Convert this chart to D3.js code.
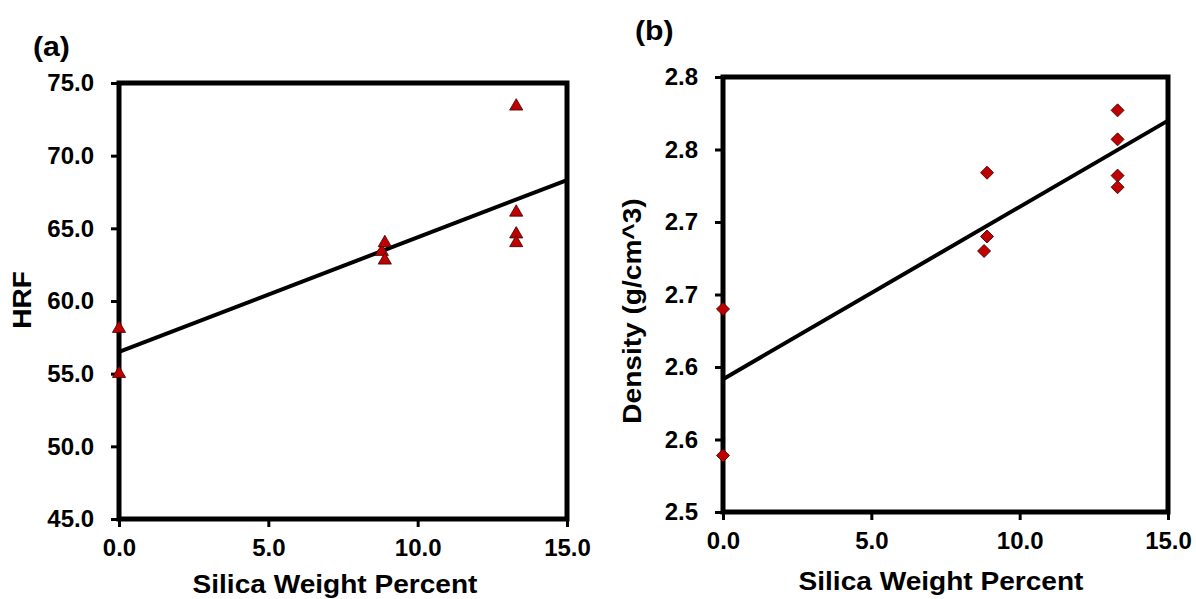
<!DOCTYPE html>
<html lang='en'>
<head>
    <meta charset='UTF-8'>
    <title>Silica weight percent</title>
    <style>
        body {
            margin: 0;
            background: #fff;
        }
        text {
            font-family: 'Liberation Sans', Arial, sans-serif;
            font-weight: bold;
            fill: #000;
        }
        .tick line {
            stroke: #000;
            stroke-width: 3px;
        }
        .domain {
            display: none;
        }
    </style>
</head>
<body>
    <div id="chart"></div>
    <script src='https://d3js.org/d3.v7.min.js'></script>
    <script>
        // data
        const silicaA = [0, 0, 8.8, 8.9, 8.9, 13.3, 13.3, 13.3, 13.3]
        const hrf = [58.1, 55.0, 63.4, 64.0, 62.8, 73.4, 66.1, 64.6, 64.0]
        const silicaB = [0, 0, 8.9, 8.9, 8.8, 13.3, 13.3, 13.3, 13.3]
        const density = [2.640, 2.539, 2.734, 2.690, 2.680, 2.777, 2.757, 2.732, 2.724]

        const xTicks = [0, 5, 10, 15]
        const xTickLabels = ['0.0', '5.0', '10.0', '15.0']
        const hrfTicks = [45, 50, 55, 60, 65, 70, 75]
        const hrfTickLabels = ['45.0', '50.0', '55.0', '60.0', '65.0', '70.0', '75.0']
        const densityTicks = [2.5, 2.55, 2.6, 2.65, 2.7, 2.75, 2.8]
        const densityTickLabels = ['2.5', '2.6', '2.6', '2.7', '2.7', '2.8', '2.8']

        const W = 1196, H = 599
        const markerFill = '#c00000'
        const stretch = 1.08 // titles in the picture are a bit wide

        const svg = d3.select('#chart').append('svg')
            .attr('width', W)
            .attr('height', H)

        // least squares fit, like the excel trendline
        function linFit(xs, ys) {
            const mx = d3.mean(xs), my = d3.mean(ys)
            let sxy = 0, sxx = 0
            xs.forEach((x, i) => {
                sxy += (x - mx) * (ys[i] - my)
                sxx += (x - mx) * (x - mx)
            })
            const slope = sxy / sxx
            return { slope, intercept: my - slope * mx }
        }

        function drawPanel(cfg) {
            const x = d3.scaleLinear().domain([0, 15]).range([cfg.left, cfg.right])
            const y = d3.scaleLinear().domain(cfg.yDomain).range([cfg.bottom, cfg.top])
            const g = svg.append('g')

            // trend line
            const fit = linFit(cfg.xs, cfg.ys)
            g.append('line')
                .attr('x1', x(0)).attr('y1', y(fit.intercept))
                .attr('x2', x(15)).attr('y2', y(fit.intercept + fit.slope * 15))
                .attr('stroke', '#000')
                .attr('stroke-width', 4)

            // axes
            const yAxis = d3.axisLeft(y)
                .tickValues(cfg.yTicks)
                .tickFormat((d, i) => cfg.yTickLabels[i])
                .tickSize(8)
                .tickPadding(17)
            g.append('g')
                .attr('transform', `translate(${cfg.left},0)`)
                .call(yAxis)
                .selectAll('text')
                .style('font-size', '24px')

            const xAxis = d3.axisBottom(x)
                .tickValues(xTicks)
                .tickFormat((d, i) => xTickLabels[i])
                .tickSize(8)
                .tickPadding(12)
            g.append('g')
                .attr('transform', `translate(0,${cfg.bottom})`)
                .call(xAxis)
                .selectAll('text')
                .style('font-size', '24px')

            // frame
            g.append('rect')
                .attr('x', cfg.left)
                .attr('y', cfg.top)
                .attr('width', cfg.right - cfg.left)
                .attr('height', cfg.bottom - cfg.top)
                .attr('fill', 'none')
                .attr('stroke', '#000')
                .attr('stroke-width', 5)

            // markers sit on top of the frame
            const sym = d3.symbol().type(cfg.symbol).size(cfg.symbolSize)
            g.selectAll('path.pt')
                .data(cfg.xs.map((v, i) => [v, cfg.ys[i]]))
                .join('path')
                .attr('class', 'pt')
                .attr('d', sym)
                .attr('transform', d => `translate(${x(d[0])},${y(d[1])})` + (cfg.rotate ? ' rotate(45)' : ''))
                .attr('fill', markerFill)
                .attr('stroke', '#3a0000')
                .attr('stroke-width', 0.8)

            // titles
            g.append('text')
                .attr('transform', `translate(${cfg.xTitleCx},${cfg.xTitleY}) scale(${stretch},1)`)
                .attr('text-anchor', 'middle')
                .style('font-size', '26px')
                .text('Silica Weight Percent')

            g.append('text')
                .attr('transform', `translate(${cfg.yTitleX},${cfg.yTitleCy}) rotate(-90) scale(${stretch},1)`)
                .attr('text-anchor', 'middle')
                .attr('dy', '0.35em')
                .style('font-size', '26px')
                .text(cfg.yTitle)

            g.append('text')
                .attr('transform', `translate(${cfg.tagX},${cfg.tagY}) scale(${stretch},1)`)
                .style('font-size', '28px')
                .text(cfg.tag)
        }

        drawPanel({
            left: 119, right: 567, top: 83, bottom: 519,
            yDomain: [45, 75],
            yTicks: hrfTicks, yTickLabels: hrfTickLabels,
            xs: silicaA, ys: hrf,
            symbol: d3.symbolTriangle, symbolSize: 75, rotate: false,
            yTitle: 'HRF', yTitleX: 22, yTitleCy: 300,
            xTitleCx: 335, xTitleY: 593,
            tag: '(a)', tagX: 33, tagY: 56
        })

        drawPanel({
            left: 723, right: 1168, top: 77, bottom: 512,
            yDomain: [2.5, 2.8],
            yTicks: densityTicks, yTickLabels: densityTickLabels,
            xs: silicaB, ys: density,
            symbol: d3.symbolSquare, symbolSize: 85, rotate: true,
            yTitle: 'Density (g/cm^3)', yTitleX: 632, yTitleCy: 311,
            xTitleCx: 941, xTitleY: 590,
            tag: '(b)', tagX: 635, tagY: 40
        })
    </script>
</body>
</html>
